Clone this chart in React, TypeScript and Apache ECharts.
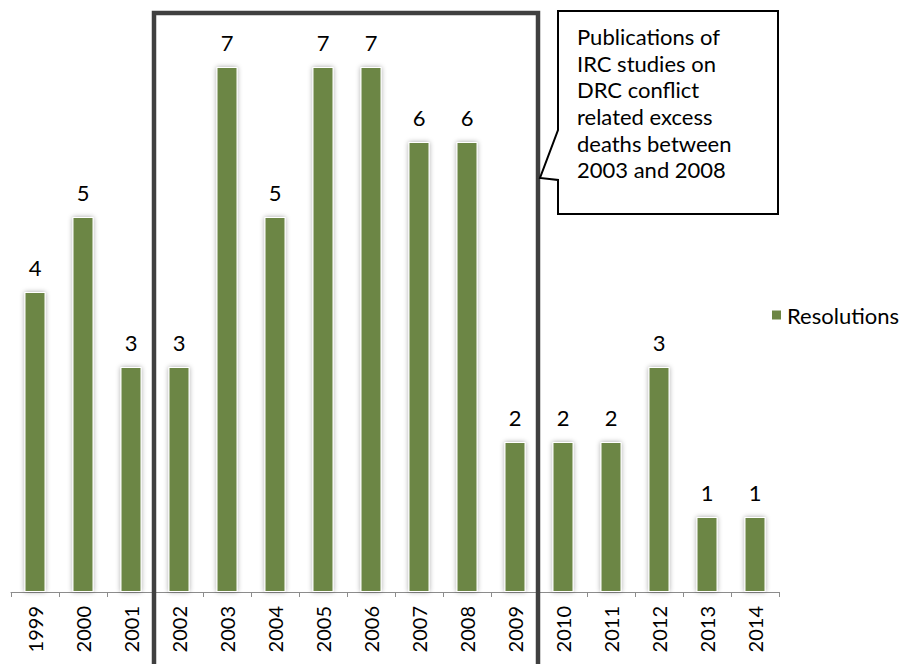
import React, { useEffect, useRef } from "react";
import * as echarts from "echarts";

const years = ["1999", "2000", "2001", "2002", "2003", "2004", "2005", "2006", "2007", "2008", "2009", "2010", "2011", "2012", "2013", "2014"];
const resolutions = [4, 5, 3, 3, 7, 5, 7, 7, 6, 6, 2, 2, 2, 3, 1, 1];
const seriesName = "Resolutions";
const calloutLines = [
  "Publications of",
  "IRC studies on",
  "DRC conflict",
  "related excess",
  "deaths between",
  "2003 and 2008",
];

const FONT = "Lato, 'Liberation Sans', sans-serif";

export default function App() {
  const ref = useRef<HTMLDivElement>(null);
  useEffect(() => {
    if (!ref.current) return;
    const chart = echarts.init(ref.current, undefined, { renderer: "svg" });
    chart.setOption({
      animation: false,
      backgroundColor: "#ffffff",
      grid: { left: 11, right: 123, top: 67, bottom: 72 },
      legend: {
        data: [seriesName],
        left: 765,
        top: 299,
        icon: "rect",
        itemWidth: 11,
        itemHeight: 11,
        itemGap: 7,
        textStyle: { fontFamily: FONT, fontSize: 22, color: "#000" },
      },
      xAxis: {
        type: "category",
        data: years,
        axisLine: { lineStyle: { color: "#8c8c8c", width: 1 } },
        axisTick: { show: true, length: 5, lineStyle: { color: "#8c8c8c" } },
        axisLabel: {
          rotate: 90,
          margin: 14,
          fontFamily: FONT,
          fontSize: 20,
          color: "#000",
        },
      },
      yAxis: { type: "value", min: 0, max: 7, show: false, splitLine: { show: false } },
      series: [
        {
          name: seriesName,
          type: "bar",
          data: resolutions,
          barWidth: 21,
          itemStyle: {
            color: "#6c8644",
            borderColor: "#ffffff",
            borderWidth: 1,
            shadowColor: "rgba(0,0,0,0.35)",
            shadowBlur: 5,
          },
          label: {
            show: true,
            position: "top",
            distance: 14,
            fontFamily: FONT,
            fontSize: 22,
            color: "#000",
          },
        },
      ],
      graphic: [
        {
          type: "rect",
          shape: { x: 154, y: 13, width: 384, height: 700 },
          style: { fill: "none", stroke: "#404040", lineWidth: 4.5 },
          z: 10,
        },
        {
          type: "polygon",
          shape: {
            points: [
              [558, 11],
              [778, 11],
              [778, 214],
              [558, 214],
              [558, 180],
              [540, 178],
              [558, 130],
            ],
          },
          style: { fill: "#ffffff", stroke: "#000000", lineWidth: 2 },
          z: 11,
        },
        {
          type: "text",
          x: 577,
          y: 23,
          style: {
            text: calloutLines.join("\n"),
            font: `22px ${FONT}`,
            lineHeight: 26.7,
            fill: "#000",
            verticalAlign: "top",
            align: "left",
          },
          z: 12,
        },
      ],
    });
    return () => chart.dispose();
  }, []);
  return (
    <div
      ref={ref}
      style={{ position: "absolute", left: 0, top: 0, width: 902, height: 664 }}
    />
  );
}
